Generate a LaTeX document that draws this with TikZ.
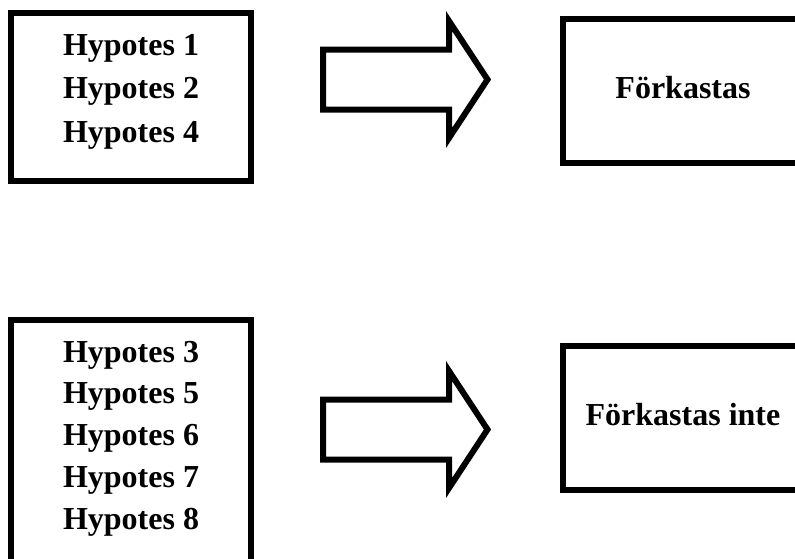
\documentclass[tikz,border=0pt]{standalone}
\usepackage{fontspec}
\setmainfont{Liberation Serif}
\begin{document}
\begin{tikzpicture}[x=1pt,y=-1pt,
  boxline/.style={draw=black,line width=6pt,line join=miter},
  lbl/.style={font=\fontsize{32}{40}\selectfont\bfseries,inner sep=0pt,anchor=base}]
\useasboundingbox (0,0) rectangle (795,558);
\clip (0,0) rectangle (795,558);
% boxes
\draw[boxline] (11,13) rectangle (251,181);
\draw[boxline] (11,319.5) rectangle (251,580);
\draw[boxline] (563,19) rectangle (803,163);
\draw[boxline] (563,346) rectangle (803,490);
% block arrows
\draw[boxline] (323,49.5) -- (449,49.5) -- (449,21) -- (487.5,79.5) -- (449,138) -- (449,109.5) -- (323,109.5) -- cycle;
\draw[boxline] (323,399.5) -- (449,399.5) -- (449,371) -- (487.5,429.5) -- (449,488) -- (449,459.5) -- (323,459.5) -- cycle;
% texts
\node[lbl] (h1) at (131,55) {Hypotes 1};
\node[lbl] (h2) at (131,98.5) {Hypotes 2};
\node[lbl] (h4) at (131,142) {Hypotes 4};
\node[lbl] (h3) at (131,362) {Hypotes 3};
\node[lbl] (h5) at (131,403.75) {Hypotes 5};
\node[lbl] (h6) at (131,445.5) {Hypotes 6};
\node[lbl] (h7) at (131,487.25) {Hypotes 7};
\node[lbl] (h8) at (131,529) {Hypotes 8};
\node[lbl] (fo) at (683,98) {Förkastas};
\node[lbl] (fi) at (683,425) {Förkastas inte};
\end{tikzpicture}
\end{document}
